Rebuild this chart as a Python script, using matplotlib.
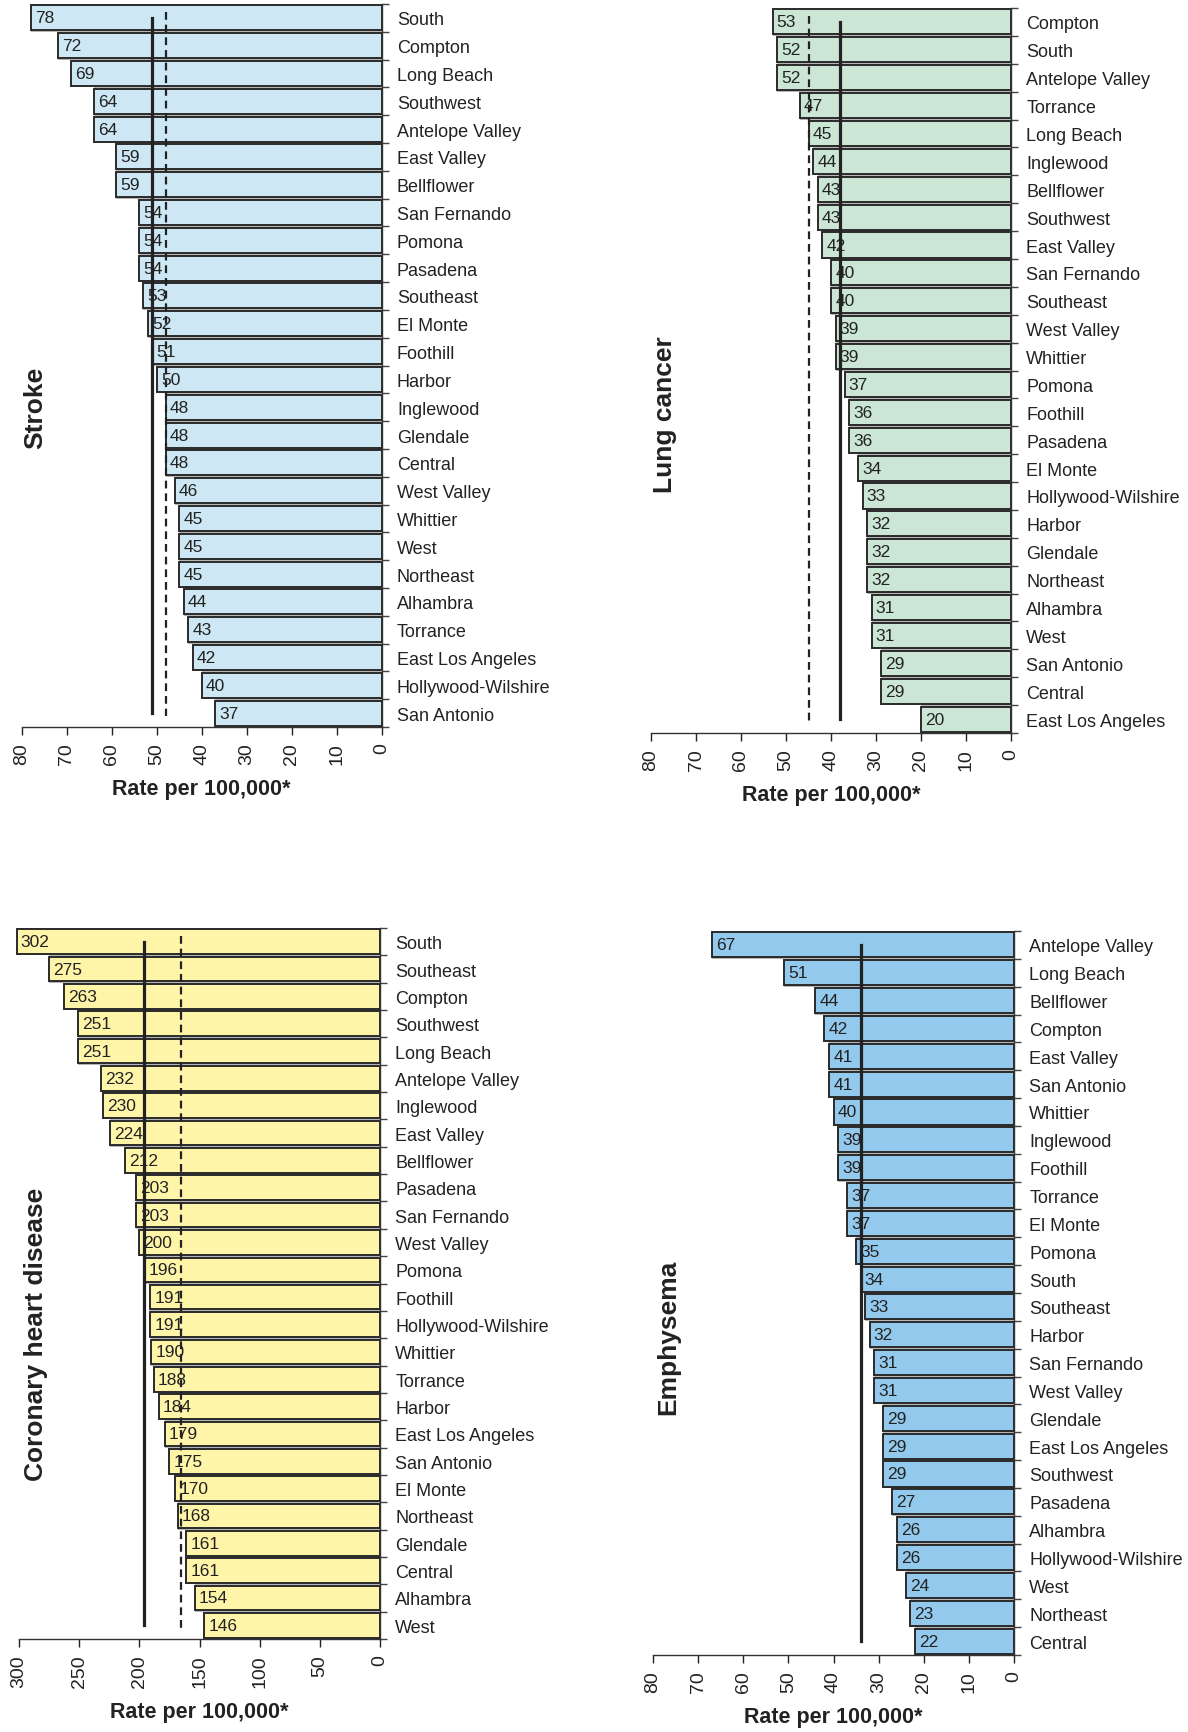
import matplotlib.pyplot as plt

plt.rcParams['font.family'] = ['Liberation Sans', 'DejaVu Sans']

W, H = 1188, 1733

stroke_names = ['South', 'Compton', 'Long Beach', 'Southwest', 'Antelope Valley', 'East Valley',
                'Bellflower', 'San Fernando', 'Pomona', 'Pasadena', 'Southeast', 'El Monte',
                'Foothill', 'Harbor', 'Inglewood', 'Glendale', 'Central', 'West Valley', 'Whittier',
                'West', 'Northeast', 'Alhambra', 'Torrance', 'East Los Angeles',
                'Hollywood-Wilshire', 'San Antonio']
stroke_rates = [78, 72, 69, 64, 64, 59, 59, 54, 54, 54, 53, 52, 51, 50, 48, 48, 48, 46, 45, 45,
                45, 44, 43, 42, 40, 37]
stroke_county = 51
stroke_target = 48

lung_names = ['Compton', 'South', 'Antelope Valley', 'Torrance', 'Long Beach', 'Inglewood',
              'Bellflower', 'Southwest', 'East Valley', 'San Fernando', 'Southeast', 'West Valley',
              'Whittier', 'Pomona', 'Foothill', 'Pasadena', 'El Monte', 'Hollywood-Wilshire',
              'Harbor', 'Glendale', 'Northeast', 'Alhambra', 'West', 'San Antonio', 'Central',
              'East Los Angeles']
lung_rates = [53, 52, 52, 47, 45, 44, 43, 43, 42, 40, 40, 39, 39, 37, 36, 36, 34, 33, 32, 32, 32,
              31, 31, 29, 29, 20]
lung_county = 38
lung_target = 45

chd_names = ['South', 'Southeast', 'Compton', 'Southwest', 'Long Beach', 'Antelope Valley',
             'Inglewood', 'East Valley', 'Bellflower', 'Pasadena', 'San Fernando', 'West Valley',
             'Pomona', 'Foothill', 'Hollywood-Wilshire', 'Whittier', 'Torrance', 'Harbor',
             'East Los Angeles', 'San Antonio', 'El Monte', 'Northeast', 'Glendale', 'Central',
             'Alhambra', 'West']
chd_rates = [302, 275, 263, 251, 251, 232, 230, 224, 212, 203, 203, 200, 196, 191, 191, 190, 188,
             184, 179, 175, 170, 168, 161, 161, 154, 146]
chd_county = 196
chd_target = 165

emph_names = ['Antelope Valley', 'Long Beach', 'Bellflower', 'Compton', 'East Valley',
              'San Antonio', 'Whittier', 'Inglewood', 'Foothill', 'Torrance', 'El Monte', 'Pomona',
              'South', 'Southeast', 'Harbor', 'San Fernando', 'West Valley', 'Glendale',
              'East Los Angeles', 'Southwest', 'Pasadena', 'Alhambra', 'Hollywood-Wilshire', 'West',
              'Northeast', 'Central']
emph_rates = [67, 51, 44, 42, 41, 41, 40, 39, 39, 37, 37, 35, 34, 33, 32, 31, 31, 29, 29, 29, 27,
              26, 26, 24, 23, 22]
emph_county = 34


def pix_axes(fig, left, right, top, bottom):
    return fig.add_axes([left / W, 1 - bottom / H, (right - left) / W, (bottom - top) / H])


def draw_panel(ax, names, rates, color, xmax, step, county, target=None):
    n = len(names)
    pos = list(range(n))
    # grey shadow behind the bars shows through the small gaps
    ax.barh(pos, rates, height=1.0, color='#b4b4b4', zorder=1, clip_on=False)
    ax.barh(pos, rates, height=0.9, color=color, edgecolor='#2a2a2a', linewidth=1.4, zorder=2,
            clip_on=False)
    for i, v in enumerate(rates):
        ax.annotate(str(v), (v, i), xytext=(3, 0), textcoords='offset points',
                    ha='left', va='center', fontsize=12.5, color='#222222', zorder=3,
                    annotation_clip=False)

    ax.plot([county, county], [0, n - 1], color='#222222', lw=2.3, zorder=4)
    if target is not None:
        ax.plot([target, target], [-0.2, n - 0.9], color='#222222', lw=1.6,
                dashes=(3.5, 2.2), zorder=4)

    ax.set_xlim(xmax, 0)
    ax.set_ylim(n - 0.5, -0.5)
    ax.set_xticks(range(0, xmax + 1, step))
    ax.tick_params(axis='x', length=6, width=1, colors='#222222', labelsize=14,
                   labelrotation=90, pad=5)

    ax.yaxis.tick_right()
    ax.set_yticks([i - 0.5 for i in range(n + 1)])
    ax.set_yticklabels([])
    ax.set_yticks(pos, minor=True)
    ax.set_yticklabels(names, minor=True, fontsize=13, color='#222222')
    ax.tick_params(axis='y', which='major', length=5, width=1, colors='#444444')
    ax.tick_params(axis='y', which='minor', length=0, pad=11)

    for side in ['left', 'top']:
        ax.spines[side].set_visible(False)
    for side in ['right', 'bottom']:
        ax.spines[side].set_color('#333333')
        ax.spines[side].set_linewidth(1)

    ax.set_xlabel('Rate per 100,000*', fontsize=15.5, fontweight='bold', labelpad=10,
                  color='#222222')


fig = plt.figure(figsize=(W / 100, H / 100), dpi=100)

ax1 = pix_axes(fig, 21.7, 381.7, 5, 728)
draw_panel(ax1, stroke_names, stroke_rates, '#cde8f4', 80, 10, stroke_county, stroke_target)

ax2 = pix_axes(fig, 651, 1011, 9, 734)
draw_panel(ax2, lung_names, lung_rates, '#cce6d6', 80, 10, lung_county, lung_target)

ax3 = pix_axes(fig, 19, 380, 929, 1640)
draw_panel(ax3, chd_names, chd_rates, '#fff5a9', 300, 50, chd_county, chd_target)

ax4 = pix_axes(fig, 653, 1014, 932, 1656)
draw_panel(ax4, emph_names, emph_rates, '#93c9ec', 80, 10, emph_county)

titles = [('Stroke', 35, 408), ('Lung cancer', 665, 415),
          ('Coronary heart disease', 36, 1334), ('Emphysema', 668, 1337)]
for text, x, y in titles:
    fig.text(x / W, 1 - y / H, text, rotation=90, fontsize=19, fontweight='bold',
             ha='center', va='center', color='#222222')

fig.savefig('out.png', dpi=100)
